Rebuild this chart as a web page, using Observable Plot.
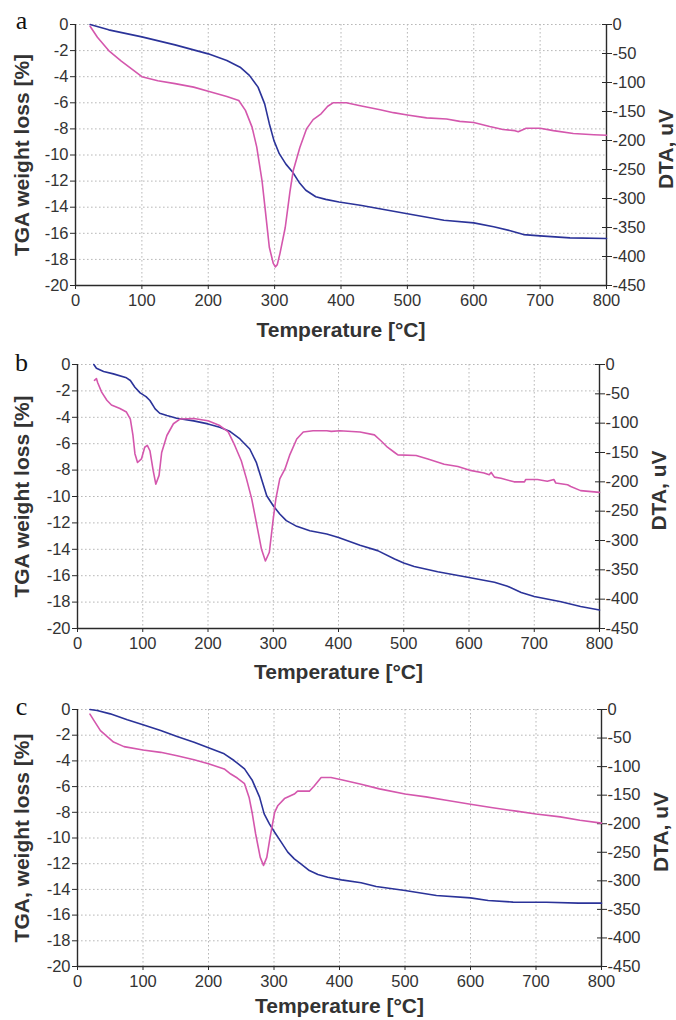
<!DOCTYPE html>
<html><head><meta charset="utf-8">
<script src="https://cdn.jsdelivr.net/npm/d3@7"></script>
<script src="https://cdn.jsdelivr.net/npm/@observablehq/plot@0.6"></script>
<style>
html,body{margin:0;padding:0;background:#fff;}
#wrap{position:relative;width:676px;height:1020px;overflow:hidden;background:#fff;}
#wrap svg{position:absolute;left:0;}
</style></head><body><div id="wrap"></div>
<script>
// ---- axis ticks ----
const tempTicks = [0,100,200,300,400,500,600,700,800];
const tgaTicks = [0,-2,-4,-6,-8,-10,-12,-14,-16,-18,-20];
const dtaTicks = [0,-50,-100,-150,-200,-250,-300,-350,-400,-450];
const panelLetters = ["a","b","c"];
const tgaTitles = ["TGA weight loss [%]","TGA weight loss [%]","TGA, weight loss [%]"];
const xTitle = "Temperature [°C]";
const dtaTitle = "DTA, uV";

// ---- series: [temperature °C, value] ; TGA in %, DTA in uV ----
const a_TGA = [[22,0],[50,-0.41],[100,-0.95],[150,-1.56],[200,-2.25],[228,-2.76],[248,-3.27],[262,-3.9],[275,-4.8],[285,-6.08],[292,-7.6],[299,-8.9],[307,-9.9],[317,-10.7],[327,-11.3],[337,-12.1],[347,-12.7],[362,-13.2],[377,-13.4],[397,-13.6],[429,-13.85],[500,-14.5],[555,-15.0],[600,-15.2],[630,-15.5],[655,-15.8],[675,-16.1],[700,-16.2],[745,-16.35],[800,-16.4]];
const a_DTA = [[22,-3],[33,-22],[50,-45],[69,-63],[84,-76],[100,-90],[124,-97],[150,-102],[178,-108],[200,-115],[228,-124],[246,-131],[256,-148],[266,-177],[273,-211],[281,-269],[286,-321],[292,-384],[298,-412],[301,-418],[304,-414],[308,-395],[316,-350],[323,-289],[328,-252],[338,-212],[348,-180],[358,-164],[370,-154],[380,-141],[388,-135],[408,-135],[429,-140],[459,-147],[479,-152],[500,-156],[529,-161],[559,-163],[579,-167],[600,-169],[624,-176],[644,-181],[662,-183],[667,-185],[679,-179],[700,-179],[720,-183],[750,-188],[781,-190],[800,-191]];

const b_TGA = [[25,0],[29,-0.28],[40,-0.53],[55,-0.71],[75,-1.01],[81,-1.21],[88,-1.72],[96,-2.15],[105,-2.43],[111,-2.73],[119,-3.36],[126,-3.69],[137,-3.87],[152,-4.07],[178,-4.27],[200,-4.5],[218,-4.75],[234,-5.08],[249,-5.64],[264,-6.4],[274,-7.41],[282,-8.67],[290,-9.94],[300,-10.7],[310,-11.33],[320,-11.83],[336,-12.26],[356,-12.59],[382,-12.84],[400,-13.1],[433,-13.7],[460,-14.1],[486,-14.74],[500,-15.04],[516,-15.3],[552,-15.7],[600,-16.13],[639,-16.5],[659,-16.8],[680,-17.27],[700,-17.57],[741,-17.98],[771,-18.33],[800,-18.6]];
const b_DTA = [[26,-27],[29,-24],[31,-31],[37,-47],[45,-61],[52,-69],[65,-75],[75,-81],[81,-93],[85,-121],[88,-152],[92,-167],[98,-161],[103,-141],[107,-138],[111,-147],[116,-181],[120,-204],[125,-189],[129,-150],[137,-121],[147,-101],[157,-93],[178,-92],[200,-96],[218,-104],[231,-115],[241,-138],[251,-164],[259,-195],[267,-229],[274,-269],[282,-315],[288,-335],[294,-320],[300,-263],[304,-229],[310,-195],[318,-178],[325,-155],[336,-127],[346,-115],[361,-113],[382,-113],[389,-114],[402,-113],[433,-115],[455,-120],[465,-130],[475,-141],[486,-150],[491,-154],[519,-155],[537,-161],[562,-170],[583,-174],[600,-180],[623,-185],[631,-188],[634,-184],[639,-192],[649,-194],[669,-200],[685,-200],[687,-196],[705,-196],[720,-199],[730,-196],[733,-202],[751,-205],[756,-208],[771,-215],[800,-218]];

const c_TGA = [[19,0],[30,-0.08],[50,-0.34],[76,-0.8],[100,-1.19],[127,-1.63],[152,-2.1],[178,-2.54],[200,-2.98],[224,-3.45],[239,-3.97],[255,-4.62],[267,-5.53],[278,-6.82],[285,-8.12],[293,-8.9],[301,-9.55],[311,-10.32],[321,-11.1],[331,-11.62],[341,-12.01],[354,-12.53],[367,-12.84],[382,-13.05],[403,-13.26],[433,-13.48],[456,-13.77],[500,-14.09],[548,-14.47],[600,-14.66],[627,-14.86],[665,-14.99],[716,-15.0],[765,-15.07],[800,-15.07]];
const c_DTA = [[19,-8],[25,-19],[35,-37],[45,-47],[55,-57],[71,-65],[100,-71],[127,-75],[152,-81],[178,-88],[200,-95],[224,-104],[234,-113],[244,-120],[255,-130],[262,-154],[267,-183],[272,-218],[279,-259],[284,-273],[289,-259],[294,-224],[301,-180],[306,-168],[316,-156],[331,-148],[336,-143],[354,-143],[362,-133],[372,-119],[387,-119],[403,-123],[433,-131],[461,-139],[500,-148],[532,-153],[563,-159],[600,-166],[634,-172],[670,-178],[700,-183],[737,-188],[767,-194],[800,-199]];

const tgaSeries = [a_TGA, b_TGA, c_TGA];
const dtaSeries = [a_DTA, b_DTA, c_DTA];

// ---- layout ----
const layouts = [
  {top:0,   mt:24, mb:55, ml:75, mr:70, letterDy:-4, xTitleDy:45},
  {top:340, mt:24, mb:52, ml:77, mr:77, letterDy:-2, xTitleDy:44},
  {top:680, mt:29, mb:54, ml:77, mr:75, letterDy:-3, xTitleDy:40}
];
const BLUE = "#2b3399";
const PINK = "#d457ad";
const AX = "#2a2a2a";
const TXT = "#333333";
const SANS = "'Liberation Sans', Arial, Helvetica, sans-serif";
const k = 20/450; // DTA -> left-axis units

const wrap = document.getElementById("wrap");
layouts.forEach((L, i) => {
  const fmt = d => String(d);
  const chart = Plot.plot({
    width: 676, height: 340,
    marginTop: L.mt, marginBottom: L.mb, marginLeft: L.ml, marginRight: L.mr,
    style: {fontFamily: SANS, fontSize: "16.5px", color: TXT, background: "transparent", overflow: "visible"},
    x: {domain: [0, 800]},
    y: {domain: [-20, 0]},
    marks: [
      Plot.gridX(tempTicks.slice(1, -1), {stroke: "#b8b8b8", strokeOpacity: 1, strokeDasharray: "1.6,2.4", strokeWidth: 1}),
      Plot.gridY(tgaTicks.slice(0, -1), {stroke: "#b8b8b8", strokeOpacity: 1, strokeDasharray: "1.6,2.4", strokeWidth: 1}),
      Plot.ruleX([0, 800], {stroke: AX, strokeWidth: 1.4}),
      Plot.ruleY([-20], {stroke: AX, strokeWidth: 1.4}),
      Plot.axisX({ticks: tempTicks, tickFormat: fmt, tickSize: 4, tickPadding: 5, stroke: AX, fill: TXT, fontSize: 16.5, label: null}),
      Plot.axisY({anchor: "left", ticks: tgaTicks, tickFormat: fmt, tickSize: 5, tickPadding: 2, stroke: AX, fill: TXT, fontSize: 16.5, label: null}),
      Plot.axisY({anchor: "right", ticks: dtaTicks.map(d => d * k), tickFormat: d => String(Math.round(d / k)), tickSize: 10, insetRight: 5, tickPadding: 1, stroke: AX, fill: TXT, fontSize: 16.5, label: null}),
      Plot.line(tgaSeries[i], {x: d => d[0], y: d => d[1], stroke: BLUE, strokeWidth: 1.6}),
      Plot.line(dtaSeries[i], {x: d => d[0], y: d => d[1] * k, stroke: PINK, strokeWidth: 1.6}),
      Plot.text([xTitle], {frameAnchor: "bottom", dy: L.xTitleDy, lineAnchor: "middle", fontWeight: "bold", fontSize: 21, fill: TXT, fontFamily: SANS}),
      Plot.text([tgaTitles[i]], {frameAnchor: "left", dx: 22 - L.ml, rotate: -90, lineAnchor: "middle", textAnchor: "middle", fontWeight: "bold", fontSize: 21, fill: TXT, fontFamily: SANS}),
      Plot.text([dtaTitle], {frameAnchor: "right", dx: 60, dy: -6, rotate: -90, lineAnchor: "middle", textAnchor: "middle", fontWeight: "bold", fontSize: 21, fill: TXT, fontFamily: SANS}),
      Plot.text([panelLetters[i]], {frameAnchor: "top-left", dx: 21 - L.ml, dy: L.letterDy, lineAnchor: "middle", textAnchor: "middle", fontSize: 26, fill: "#111", fontFamily: "'Liberation Serif', 'Times New Roman', serif"})
    ]
  });
  chart.style.top = L.top + "px";
  wrap.appendChild(chart);
});
</script></body></html>
